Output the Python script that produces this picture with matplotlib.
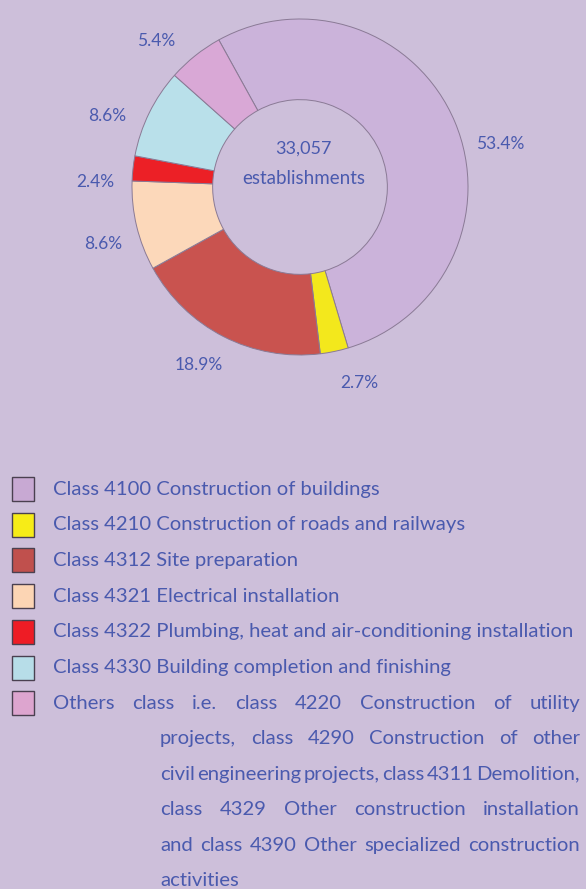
import numpy as np
import matplotlib.pyplot as plt
from matplotlib.patches import Rectangle

# data
shares = [53.4, 2.7, 18.9, 8.6, 2.4, 8.6, 5.4]
share_labels = ['53.4%', '2.7%', '18.9%', '8.6%', '2.4%', '8.6%', '5.4%']
colors = ['#cbb3da', '#f3e81c', '#c9534f', '#fcd8ba', '#ec2026', '#b9e0ea', '#d9a8d6']
total_text = ['33,057', 'establishments']
legend_colors = ['#c8a9d3', '#f7ec17', '#c0504d', '#fcd5b4', '#ee1c25', '#b7dde8', '#dda5cf']
legend_labels = [
    'Class 4100 Construction of buildings',
    'Class 4210 Construction of roads and railways',
    'Class 4312 Site preparation',
    'Class 4321 Electrical installation',
    'Class 4322 Plumbing, heat and air-conditioning installation',
    'Class 4330 Building completion and finishing',
]
others_lines = [
    'Others class i.e. class 4220 Construction of utility',
    'projects, class 4290 Construction of other',
    'civil engineering projects, class 4311 Demolition,',
    'class 4329 Other construction installation',
    'and class 4390 Other specialized construction',
    'activities',
]

W, H = 586, 889
BG = '#cdbfda'
TXT = '#4a5aae'
plt.rcParams['font.family'] = ['Lato', 'DejaVu Sans']

fig = plt.figure(figsize=(W / 100, H / 100), dpi=100, facecolor=BG)


def fx(x):
    return x / W


def fy(y):
    return 1 - y / H


# donut: centre (300,187) px, outer radius 168 px
cx, cy, R = 300, 187, 168
L = 1.1
a = R * L
ax = fig.add_axes([fx(cx - a), fy(cy + a), 2 * a / W, 2 * a / H])
ax.set_facecolor(BG)
wedges, _ = ax.pie(shares, colors=colors, startangle=118.9, counterclock=False,
                   radius=1.0, wedgeprops=dict(width=0.48, edgecolor='#8a7a95', linewidth=0.7))
ax.set_xlim(-L, L)
ax.set_ylim(-L, L)
ax.set_aspect('equal')
ax.axis('off')

nudge = [-10.8, 5, -2.4, 2.6, 5, 6, 6]
for w, lab, dn in zip(wedges, share_labels, nudge):
    ang = np.deg2rad((w.theta1 + w.theta2) / 2 + dn)
    ax.text(1.22 * np.cos(ang), 1.22 * np.sin(ang), lab, ha='center', va='center',
            color=TXT, fontsize=12.5, clip_on=False)

ax.text(0.02, 0.23, total_text[0], ha='center', va='center', color=TXT, fontsize=13)
ax.text(0.02, 0.05, total_text[1], ha='center', va='center', color=TXT, fontsize=13.5)

# legend
fs = 14.6
y0, dy = 489, 35.7
for i, c in enumerate(legend_colors):
    y = y0 + i * dy
    fig.patches.append(Rectangle((fx(12), fy(y + 12)), 22 / W, 24 / H, transform=fig.transFigure,
                                 facecolor=c, edgecolor='#4a4050', linewidth=1.0))
    if i < len(legend_labels):
        fig.text(fx(53), fy(y), legend_labels[i], ha='left', va='center', color=TXT, fontsize=fs)

renderer = fig.canvas.get_renderer()


def justified(line, x0, x1, y, justify=True):
    words = line.split()
    texts = [fig.text(fx(x0), fy(y), w, ha='left', va='center', color=TXT, fontsize=fs) for w in words]
    widths = [t.get_window_extent(renderer).width for t in texts]
    if not justify or len(words) < 2:
        t0 = fig.text(0, 0, 'a b', fontsize=fs)
        t1 = fig.text(0, 0, 'ab', fontsize=fs)
        gap = t0.get_window_extent(renderer).width - t1.get_window_extent(renderer).width
        t0.remove(); t1.remove()
    else:
        gap = ((x1 - x0) - sum(widths)) / (len(words) - 1)
    x = x0
    for t, wd in zip(texts, widths):
        t.set_x(fx(x))
        x += wd + gap


yo = y0 + 6 * dy
for k, line in enumerate(others_lines):
    x0 = 53 if k == 0 else 160
    justified(line, x0, 580, yo + k * 35.5, justify=(k < len(others_lines) - 1))

fig.savefig('out.png', dpi=100, facecolor=BG)
